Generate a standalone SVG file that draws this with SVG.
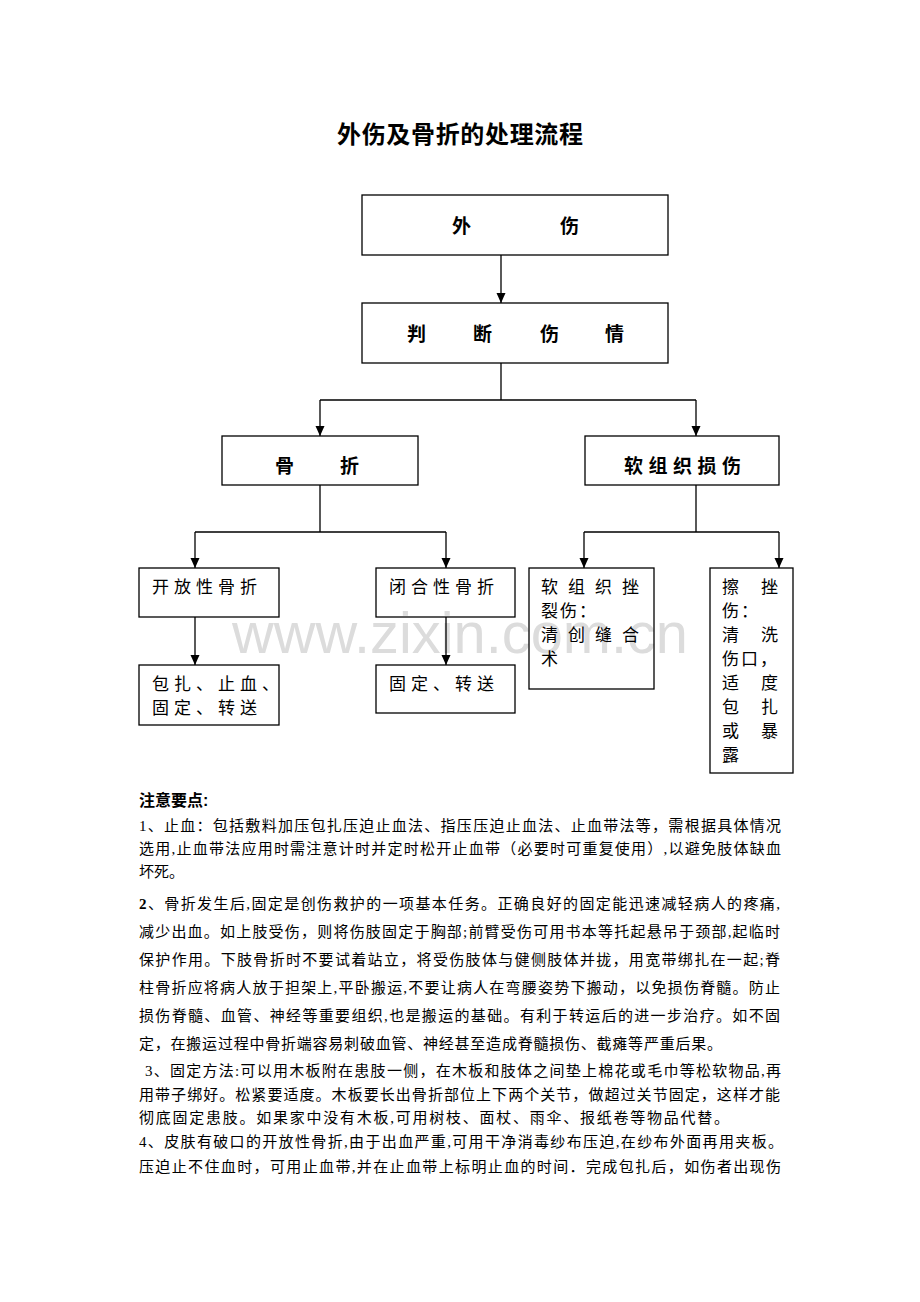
<svg xmlns="http://www.w3.org/2000/svg" width="920" height="1302" viewBox="0 0 920 1302">
<style>
.box{fill:none;stroke:#000;stroke-width:1.3}
.ln{fill:none;stroke:#000;stroke-width:1.3}
.fl{font-family:"Liberation Sans","Noto Sans CJK SC",sans-serif;font-size:19px;font-weight:bold;fill:#000}
.sm{font-family:"Liberation Sans","Noto Sans CJK SC",sans-serif;font-size:17px;fill:#000}
.bd{font-family:"Liberation Serif","Noto Sans CJK SC",serif;font-size:15px;fill:#000}
.wm{font-family:"Liberation Sans",Arial,sans-serif;font-size:57px;fill:#dcdcdc}
</style>
<defs>
<marker id="ah" viewBox="0 0 10 10" refX="10" refY="5" markerWidth="10" markerHeight="10" markerUnits="userSpaceOnUse" orient="auto"><path d="M0,0.5 L10,5 L0,9.5 z" fill="#000"/></marker>
</defs>
<rect width="920" height="1302" fill="#fff"/>
<text class="wm" x="232" y="653" textLength="456" lengthAdjust="spacingAndGlyphs">www.zixin.com.cn</text>
<text x="337" y="143" font-family="Liberation Sans,'Noto Sans CJK SC',sans-serif" font-size="24" font-weight="bold" textLength="246" fill="#000">外伤及骨折的处理流程</text>
<g id="n1"><rect class="box" x="362" y="195" width="306" height="60"/><text class="fl" x="452 560" y="233">外伤</text></g>
<g id="n2"><rect class="box" x="362" y="303" width="306" height="60"/><text class="fl" x="407 473 540 605" y="341">判断伤情</text></g>
<g id="n3"><rect class="box" x="222" y="436" width="196" height="49"/><text class="fl" x="275 340" y="473">骨折</text></g>
<g id="n4"><rect class="box" x="585" y="436" width="194" height="49"/><text class="fl" x="624 648.5 673 697.5 722" y="473">软组织损伤</text></g>
<g id="n5"><rect class="box" x="139" y="568" width="140" height="49"/><text class="sm" x="152 174 196 218 240" y="593">开放性骨折</text></g>
<g id="n6"><rect class="box" x="139" y="665" width="140" height="60"/><text class="sm"><tspan x="152 174 196 218 240 262" y="690">包扎、止血、</tspan><tspan x="152 174 196 218 240" y="714">固定、转送</tspan></text></g>
<g id="n7"><rect class="box" x="376" y="568" width="139" height="49"/><text class="sm" x="389 411 433 455 477" y="593">闭合性骨折</text></g>
<g id="n8"><rect class="box" x="376" y="665" width="139" height="48"/><text class="sm" x="389 411 433 455 477" y="690">固定、转送</text></g>
<g id="n9"><rect class="box" x="529" y="568" width="125" height="121"/><text class="sm"><tspan x="541 568 595 622" y="593">软组织挫</tspan><tspan x="541 560 579" y="617">裂伤：</tspan><tspan x="541 568 595 622" y="641">清创缝合</tspan><tspan x="541" y="665">术</tspan></text></g>
<g id="n10"><rect class="box" x="710" y="568" width="83" height="205"/><text class="sm"><tspan x="722 761" y="593">擦挫</tspan><tspan x="722 741" y="617">伤：</tspan><tspan x="722 761" y="641">清洗</tspan><tspan x="722 741 760" y="665">伤口，</tspan><tspan x="722 761" y="689">适度</tspan><tspan x="722 761" y="713">包扎</tspan><tspan x="722 761" y="737">或暴</tspan><tspan x="722" y="761">露</tspan></text></g>
<g id="connectors">
<path class="ln" d="M501,255 V303" marker-end="url(#ah)"/>
<path class="ln" d="M501,363 V400 M320,400 H696"/>
<path class="ln" d="M320,400 V436" marker-end="url(#ah)"/>
<path class="ln" d="M696,400 V436" marker-end="url(#ah)"/>
<path class="ln" d="M320,485 V532 M195,532 H446"/>
<path class="ln" d="M195,532 V568" marker-end="url(#ah)"/>
<path class="ln" d="M446,532 V568" marker-end="url(#ah)"/>
<path class="ln" d="M696,485 V532 M584,532 H779"/>
<path class="ln" d="M584,532 V568" marker-end="url(#ah)"/>
<path class="ln" d="M779,532 V568" marker-end="url(#ah)"/>
<path class="ln" d="M195,617 V665" marker-end="url(#ah)"/>
<path class="ln" d="M446,617 V665" marker-end="url(#ah)"/>
</g>
<g id="notes">
<text x="139" y="806" font-family="Liberation Sans,'Noto Sans CJK SC',sans-serif" font-size="16" font-weight="bold" fill="#000">注意要点:</text>
<text class="bd" x="139" y="831" textLength="642">1、止血：包括敷料加压包扎压迫止血法、指压压迫止血法、止血带法等，需根据具体情况</text>
<text class="bd" x="139" y="854" textLength="642">选用,止血带法应用时需注意计时并定时松开止血带（必要时可重复使用）,以避免肢体缺血</text>
<text class="bd" x="139" y="877">坏死。</text>
<text class="bd" x="139" y="909" textLength="641"><tspan font-weight="bold">2</tspan>、骨折发生后,固定是创伤救护的一项基本任务。正确良好的固定能迅速减轻病人的疼痛,</text>
<text class="bd" x="139" y="937" textLength="641">减少出血。如上肢受伤，则将伤肢固定于胸部;前臂受伤可用书本等托起悬吊于颈部,起临时</text>
<text class="bd" x="139" y="965" textLength="641">保护作用。下肢骨折时不要试着站立，将受伤肢体与健侧肢体并拢，用宽带绑扎在一起;脊</text>
<text class="bd" x="139" y="993" textLength="641">柱骨折应将病人放于担架上,平卧搬运,不要让病人在弯腰姿势下搬动，以免损伤脊髓。防止</text>
<text class="bd" x="139" y="1021" textLength="641">损伤脊髓、血管、神经等重要组织,也是搬运的基础。有利于转运后的进一步治疗。如不固</text>
<text class="bd" x="139" y="1049" textLength="583">定，在搬运过程中骨折端容易刺破血管、神经甚至造成脊髓损伤、截瘫等严重后果。</text>
<text class="bd" x="145" y="1076" textLength="636">3、固定方法:可以用木板附在患肢一侧，在木板和肢体之间垫上棉花或毛巾等松软物品,再</text>
<text class="bd" x="139" y="1100" textLength="641">用带子绑好。松紧要适度。木板要长出骨折部位上下两个关节，做超过关节固定，这样才能</text>
<text class="bd" x="139" y="1123" textLength="590">彻底固定患肢。如果家中没有木板,可用树枝、面杖、雨伞、报纸卷等物品代替。</text>
<text class="bd" x="139" y="1147" textLength="644">4、皮肤有破口的开放性骨折,由于出血严重,可用干净消毒纱布压迫,在纱布外面再用夹板。</text>
<text class="bd" x="139" y="1172" textLength="642">压迫止不住血时，可用止血带,并在止血带上标明止血的时间．完成包扎后，如伤者出现伤</text>
</g>
</svg>
